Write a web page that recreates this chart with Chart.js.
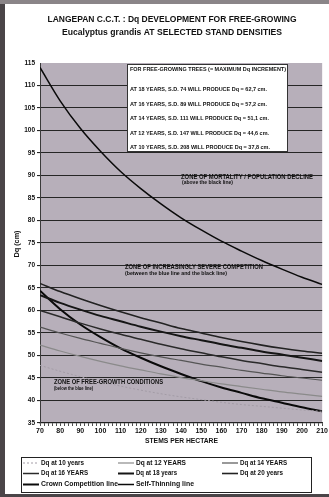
<!DOCTYPE html>
<html>
<head>
<meta charset="utf-8">
<script src="https://cdn.jsdelivr.net/npm/chart.js@4.4.1/dist/chart.umd.min.js"></script>
<style>
  html, body { margin: 0; padding: 0; background: #ffffff; }
  canvas { display: block; }
</style>
</head>
<body>
<canvas id="c" width="329" height="497"></canvas>
<script>
// Stand density (stems per hectare) at which each curve is sampled
const stems = [70, 80, 90, 100, 110, 120, 130, 140, 150, 160, 170, 180, 190, 200, 210];

// Quadratic mean diameter Dq (cm) by age for free-growing trees
const dq10 = [47.8, 46.5, 45.3, 44.2, 43.2, 42.3, 41.5, 40.8, 40.2, 39.6, 39.1, 38.7, 38.3, 37.9, 37.6];
const dq12 = [52.3, 51.0, 49.8, 48.7, 47.7, 46.8, 45.9, 45.1, 44.4, 43.7, 43.1, 42.5, 41.9, 41.4, 40.9];
const dq14 = [56.3, 55.0, 53.8, 52.7, 51.6, 50.6, 49.7, 48.9, 48.1, 47.4, 46.7, 46.1, 45.5, 45.0, 44.5];
const dq16 = [60.0, 58.6, 57.2, 55.9, 54.7, 53.6, 52.5, 51.5, 50.6, 49.7, 48.9, 48.2, 47.5, 46.9, 46.3];
const dq18 = [63.4, 61.7, 60.2, 58.8, 57.6, 56.4, 55.3, 54.3, 53.4, 52.5, 51.7, 50.9, 50.2, 49.5, 48.8];
const dq20 = [66.0, 64.2, 62.6, 61.1, 59.7, 58.4, 57.2, 56.0, 55.0, 54.0, 53.1, 52.3, 51.6, 51.0, 50.5];

// Boundary lines
const crownCompetition = [64.4, 60.3, 56.9, 54.1, 51.6, 49.5, 47.6, 45.9, 44.3, 42.9, 41.7, 40.5, 39.5, 38.5, 37.6];
const selfThinning = [114.0, 106.6, 100.5, 95.4, 90.9, 87.1, 83.7, 80.6, 77.9, 75.4, 73.2, 71.1, 69.2, 67.4, 65.8];

// Axis ticks
const yTicks = [35, 40, 45, 50, 55, 60, 65, 70, 75, 80, 85, 90, 95, 100, 105, 110, 115];
const xTickLabels = [70, 80, 90, 100, 110, 120, 130, 140, 150, 160, 170, 180, 190, 200, 210];

// Texts
const titleLines = [
  'LANGEPAN C.C.T. : Dq DEVELOPMENT FOR FREE-GROWING',
  'Eucalyptus grandis AT SELECTED STAND DENSITIES'
];
const boxLines = [
  'FOR FREE-GROWING TREES (= MAXIMUM Dq INCREMENT)',
  'AT 18 YEARS, S.D. 74 WILL PRODUCE Dq = 62,7 cm.',
  'AT 16 YEARS, S.D. 89 WILL PRODUCE Dq = 57,2 cm.',
  'AT 14 YEARS, S.D. 111 WILL PRODUCE Dq = 51,1 cm.',
  'AT 12 YEARS, S.D. 147 WILL PRODUCE Dq = 44,6 cm.',
  'AT 10 YEARS, S.D. 208 WILL PRODUCE Dq = 37,8 cm.'
];

const FONT = '"Liberation Sans", Arial, sans-serif';

function pts(values) {
  return stems.map((s, i) => ({ x: s, y: values[i] }));
}

function series(label, values, color, width, dash) {
  return {
    label: label,
    data: pts(values),
    borderColor: color,
    borderWidth: width,
    borderDash: dash || [],
    pointRadius: 0,
    fill: false,
    tension: 0.4,
    cubicInterpolationMode: 'monotone'
  };
}

// Draw text squeezed/stretched horizontally to a given width
function fitText(ctx, text, x, y, width, size, align) {
  ctx.save();
  ctx.font = 'bold ' + size + 'px ' + FONT;
  ctx.textBaseline = 'middle';
  ctx.textAlign = 'left';
  const w = ctx.measureText(text).width;
  const sx = width / w;
  let x0 = x;
  if (align === 'center') x0 = x - width / 2;
  if (align === 'right') x0 = x - width;
  ctx.translate(x0, y);
  ctx.scale(sx, 1);
  ctx.fillText(text, 0, 0);
  ctx.restore();
}

const frameAndText = {
  id: 'frameAndText',
  beforeDraw(chart) {
    const ctx = chart.ctx;
    const a = chart.chartArea;
    ctx.save();
    ctx.fillStyle = '#ffffff';
    ctx.fillRect(0, 0, chart.width, chart.height);
    // plot background
    ctx.fillStyle = '#b7afba';
    ctx.fillRect(a.left, a.top, a.right - a.left, a.bottom - a.top);
    ctx.restore();
  },
  afterDraw(chart) {
    const ctx = chart.ctx;
    ctx.save();
    ctx.fillStyle = '#111111';

    // title
    fitText(ctx, titleLines[0], 172, 19.5, 249, 9, 'center');
    fitText(ctx, titleLines[1], 172, 33, 220, 9, 'center');

    // axis titles
    fitText(ctx, 'STEMS PER HECTARE', 181.5, 441, 73, 7.5, 'center');
    ctx.save();
    ctx.translate(17, 244);
    ctx.rotate(-Math.PI / 2);
    fitText(ctx, 'Dq (cm)', 0, 0, 27, 7, 'center');
    ctx.restore();

    // information box
    ctx.fillStyle = '#ffffff';
    ctx.fillRect(127, 64, 161, 88);
    ctx.strokeStyle = '#333333';
    ctx.lineWidth = 1;
    ctx.strokeRect(127.5, 64.5, 160, 87);
    ctx.fillStyle = '#111111';
    const boxY = [69.5, 89.5, 104, 118.5, 133, 147.5];
    const boxW = [156, 137, 137, 139, 139, 140];
    boxLines.forEach((t, i) => fitText(ctx, t, 130, boxY[i], boxW[i], 6, 'left'));

    // zone labels
    fitText(ctx, 'ZONE OF MORTALITY / POPULATION DECLINE', 181, 177, 132, 6.5, 'left');
    fitText(ctx, '(above the black line)', 182, 182.5, 51, 5, 'left');
    fitText(ctx, 'ZONE OF INCREASINGLY SEVERE COMPETITION', 125, 267.5, 138, 6.5, 'left');
    fitText(ctx, '(between the blue line and the black line)', 125, 273.5, 102, 5, 'left');
    fitText(ctx, 'ZONE OF FREE-GROWTH CONDITIONS', 54, 382.5, 109, 6.5, 'left');
    fitText(ctx, '(below the blue line)', 54, 388.5, 39, 5, 'left');

    // legend box
    ctx.strokeStyle = '#222222';
    ctx.lineWidth = 1;
    ctx.strokeRect(21.5, 457.5, 290, 35);
    const cols = [23, 118, 222];
    const rows = [463, 473.5, 484.5];
    const textW = [43, 50, 47, 47, 41, 43, 77, 58];
    chart.data.datasets.forEach((ds, i) => {
      const col = cols[i % 3];
      const row = rows[Math.floor(i / 3)];
      ctx.save();
      ctx.strokeStyle = ds.borderColor;
      ctx.lineWidth = Math.min(ds.borderWidth, 2);
      ctx.setLineDash(ds.borderDash || []);
      ctx.beginPath();
      ctx.moveTo(col, row);
      ctx.lineTo(col + 16, row);
      ctx.stroke();
      ctx.restore();
      ctx.fillStyle = '#111111';
      fitText(ctx, ds.label, col + 18, row, textW[i], 6.5, 'left');
    });

    // image frame
    ctx.fillStyle = '#4a4548';
    ctx.fillRect(0, 0, 5, chart.height);
    ctx.fillStyle = '#8a8588';
    ctx.fillRect(0, 0, chart.width, 4);
    ctx.fillStyle = '#4a4548';
    ctx.fillRect(0, chart.height - 3, chart.width, 3);
    ctx.restore();
  }
};

const datasets = [
  series('Dq at 10 years', dq10, '#a39ca6', 1, [2, 2]),
  series('Dq at 12 YEARS', dq12, '#8a8a8a', 1.2),
  series('Dq at 14 YEARS', dq14, '#555555', 1.2),
  series('Dq at 16 YEARS', dq16, '#2a2a2a', 1.5),
  series('Dq at 18 years', dq18, '#151515', 2),
  series('Dq at 20 years', dq20, '#222222', 1.6),
  series('Crown Competition line', crownCompetition, '#0a0a0a', 2),
  series('Self-Thinning line', selfThinning, '#0a0a0a', 1.5)
];

new Chart(document.getElementById('c'), {
  type: 'line',
  data: { datasets: datasets },
  plugins: [frameAndText],
  options: {
    responsive: false,
    animation: false,
    devicePixelRatio: 1,
    layout: { padding: { left: 0, top: 63, right: 2, bottom: 54 } },
    plugins: {
      legend: { display: false },
      title: { display: false },
      tooltip: { enabled: false }
    },
    scales: {
      x: {
        type: 'linear',
        min: 70,
        max: 210,
        afterFit(scale) { scale.height = 20; },
        afterBuildTicks(scale) {
          const t = [];
          for (let v = 70; v <= 210; v += 2) t.push({ value: v });
          scale.ticks = t;
        },
        ticks: {
          autoSkip: false,
          maxRotation: 0,
          padding: 1,
          color: '#111111',
          font: { family: FONT, size: 7, weight: 'bold' },
          callback: (v) => (xTickLabels.includes(v) ? String(v) : '')
        },
        grid: {
          drawOnChartArea: false,
          drawTicks: true,
          tickLength: 3,
          color: '#222222',
          lineWidth: 0.8
        },
        border: { display: true, color: '#222222', width: 1.2 }
      },
      y: {
        type: 'linear',
        min: 35,
        max: 115,
        afterFit(scale) { scale.width = 40; },
        afterBuildTicks(scale) {
          scale.ticks = yTicks.map(v => ({ value: v }));
        },
        ticks: {
          padding: 2,
          color: '#111111',
          font: { family: FONT, size: 6.5, weight: 'bold' }
        },
        grid: {
          color: (c) => (c.tick && c.tick.value === 115 ? 'rgba(0,0,0,0)' : '#262626'),
          lineWidth: 1.1,
          tickLength: 3,
          drawTicks: true
        },
        border: { display: true, color: '#3a3a3a', width: 1 }
      }
    }
  }
});
</script>
</body>
</html>
